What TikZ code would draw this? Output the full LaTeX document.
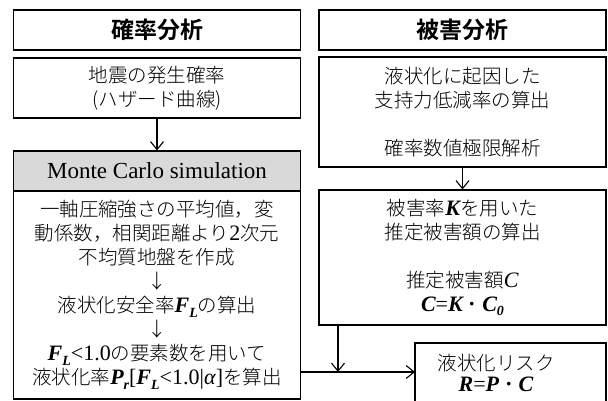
\documentclass[tikz,border=0pt]{standalone}
\usepackage{fontspec}
\setmainfont{Liberation Serif}
\newfontfamily\cjk{Noto Sans CJK JP}[UprightFont={* Light},BoldFont={* Bold}]
\usetikzlibrary{arrows.meta}
\newcommand{\lat}[1]{{\rmfamily\fontsize{22}{24}\selectfont #1}}
\newcommand{\bi}[1]{\lat{\bfseries\itshape #1}}
\newcommand{\lowsub}[1]{\raisebox{-0.4ex}{\rmfamily\fontsize{14}{14}\selectfont\bfseries\itshape #1}}

\begin{document}
\begin{tikzpicture}[x=1pt,y=-1pt,
		box/.style={draw,line width=1.1pt,minimum width=287pt,inner sep=0pt,align=center,font=\cjk\fontsize{19.5}{24}\selectfont},
		headbox/.style={box,font=\cjk\bfseries\fontsize{23}{26}\selectfont},
		arr/.style={line width=1.1pt,-{Straight Barb[length=8pt,width=13pt,line width=1.1pt]}}]
		%%%%% START %%%%%
		
		\clip (0,0) rectangle (608,401);
		
		% left column
		\node[headbox, minimum height=40pt] (probtitle) at (157,30) {確率分析};
		\node[box, minimum height=60pt] (hazard) at (157,88) {地震の発生確率\\(ハザード曲線)};
		\node[box, minimum height=40pt, fill=gray!30, font=\rmfamily\fontsize{23}{26}\selectfont] (mchead) at (157,171) {Monte Carlo simulation};
		\node[box, minimum height=208pt] (mcbody) at (157,295) {一軸圧縮強さの平均値，変\\動係数，相関距離より\lat{2}次元\\不均質地盤を作成\\↓\\液状化安全率\bi{F}\lowsub{L}の算出\\↓\\\bi{F}\lowsub{L}\lat{<1.0}の要素数を用いて\\液状化率\bi{P}\lowsub{r}\lat{[}\bi{F}\lowsub{L}\lat{<1.0|\textit{α}]}を算出};
		
		% right column
		\node[headbox, minimum height=40pt] (damtitle) at (462.5,30) {被害分析};
		\node[box, minimum height=110pt] (bearing) at (462.5,112) {液状化に起因した\\支持力低減率の算出\\[24pt]確率数値極限解析};
		\node[box, minimum height=135pt] (damage) at (462.5,257.5) {被害率\bi{K}を用いた\\推定被害額の算出\\[24pt]推定被害額\lat{\itshape C}\\\bi{C}\lat{=}\bi{K}・\bi{C}\lowsub{0}};
		
		% risk box, cut by the bottom edge
		\draw[line width=1.1pt] (415,405) -- (415,343) -- (606,343) -- (606,405);
		\node[align=center, font=\cjk\fontsize{19.5}{21}\selectfont] (risk) at (496,373) {液状化リスク\\\bi{R}\lat{=}\bi{P}・\bi{C}};
		\coordinate (riskin) at (415,372);
		\coordinate (join) at (338,372);
		
		\draw[arr] (hazard.south) -- (mchead.north);
		\draw[arr] (bearing.south) -- (damage.north);
		\draw[arr] (damage.south -| join) -- (join);
		\draw[arr] (mcbody.east |- join) -- (riskin);
		
		%%%%% END %%%%%
	\end{tikzpicture}
\end{document}
